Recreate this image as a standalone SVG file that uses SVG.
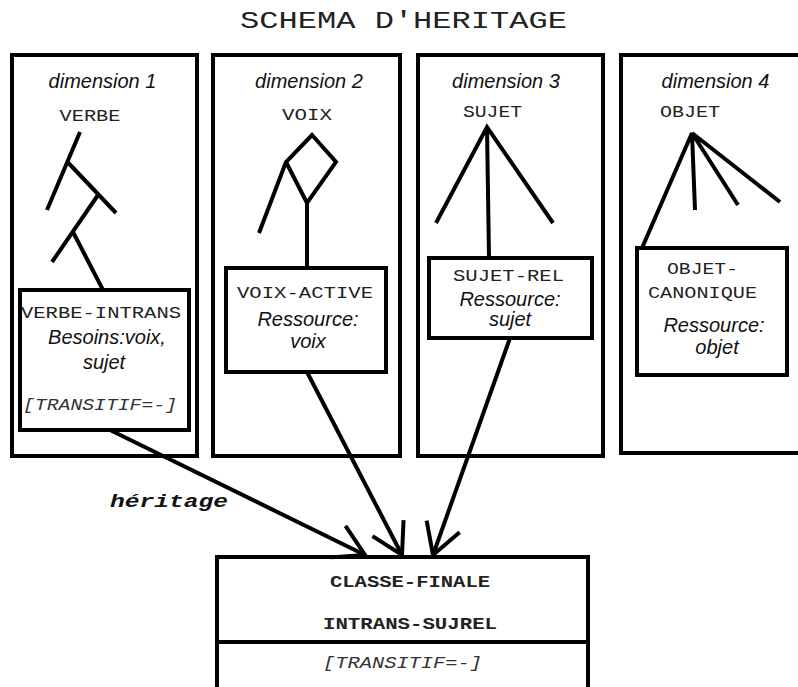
<svg xmlns="http://www.w3.org/2000/svg" width="798" height="687" viewBox="0 0 798 687">
  <style>
    .frame { fill: none; stroke: #000; stroke-width: 4; }
    .box { fill: #fff; stroke: #000; stroke-width: 4; }
    .edge { fill: none; stroke: #000; stroke-width: 4; stroke-linecap: butt; stroke-linejoin: miter; }
    .mono { font-family: "Liberation Mono", "Courier New", monospace; font-size: 16px; fill: #222; }
    .monoi { font-family: "Liberation Mono", "Courier New", monospace; font-size: 16px; font-style: italic; fill: #333; }
    .monob { font-family: "Liberation Mono", "Courier New", monospace; font-size: 16px; font-weight: bold; fill: #222; }
    .sans { font-family: "Liberation Sans", Arial, sans-serif; font-size: 20px; font-style: italic; fill: #111; }
    .title { font-family: "Liberation Mono", "Courier New", monospace; font-size: 23px; fill: #222; }
    .lbl { font-family: "Liberation Mono", "Courier New", monospace; font-size: 19px; font-weight: bold; font-style: italic; fill: #111; }
  </style>
  <defs>
    <marker id="open-arrow" markerUnits="userSpaceOnUse" viewBox="-40 -22 44 44" markerWidth="44" markerHeight="44" refX="0" refY="0" orient="auto">
      <path d="M-30.3,-17.5 L0,0 L-30.3,17.5" fill="none" stroke="#000" stroke-width="4"/>
    </marker>
  </defs>
  <rect width="798" height="687" fill="#fff"/>

  <text class="title" x="403.5" y="28" text-anchor="middle" textLength="327" lengthAdjust="spacingAndGlyphs">SCHEMA D'HERITAGE</text>

  <!-- dimension 1 : VERBE hierarchy -->
  <g id="dimension1">
    <rect class="frame" x="12" y="55" width="185" height="401"/>
    <text class="sans" x="102.5" y="88" text-anchor="middle">dimension 1</text>
    <text class="mono" x="90" y="121" text-anchor="middle" textLength="61" lengthAdjust="spacingAndGlyphs">VERBE</text>
    <path class="edge" d="M80,132 L47,210 M67.5,162 L116,213 M98,195 L52,262 M73,232 L103,290"/>
  </g>
  <g id="verbe-intrans">
    <rect class="box" x="20" y="290" width="169" height="140"/>
    <text class="mono" x="101" y="318" text-anchor="middle" textLength="160" lengthAdjust="spacingAndGlyphs">VERBE-INTRANS</text>
    <text class="sans" x="107" y="344" text-anchor="middle">Besoins:voix,</text>
    <text class="sans" x="104" y="369" text-anchor="middle">sujet</text>
    <text class="monoi" x="100" y="410" text-anchor="middle" textLength="154" lengthAdjust="spacingAndGlyphs">[TRANSITIF=-]</text>
  </g>

  <!-- dimension 2 : VOIX hierarchy -->
  <g id="dimension2">
    <rect class="frame" x="213" y="55" width="187" height="401"/>
    <text class="sans" x="309" y="88" text-anchor="middle">dimension 2</text>
    <text class="mono" x="307" y="120" text-anchor="middle" textLength="50" lengthAdjust="spacingAndGlyphs">VOIX</text>
    <path class="edge" d="M312,135 L336,162 L307,203 L286,162 Z M286,162 L259,233 M307,203 L307,268"/>
  </g>
  <g id="voix-active">
    <rect class="box" x="226" y="268" width="160" height="104"/>
    <text class="mono" x="305" y="298" text-anchor="middle" textLength="136" lengthAdjust="spacingAndGlyphs">VOIX-ACTIVE</text>
    <text class="sans" x="308" y="326" text-anchor="middle">Ressource:</text>
    <text class="sans" x="308" y="348" text-anchor="middle">voix</text>
  </g>

  <!-- dimension 3 : SUJET hierarchy -->
  <g id="dimension3">
    <rect class="frame" x="418" y="55" width="185" height="401"/>
    <text class="sans" x="506" y="88" text-anchor="middle">dimension 3</text>
    <text class="mono" x="492.5" y="117" text-anchor="middle" textLength="59" lengthAdjust="spacingAndGlyphs">SUJET</text>
    <path class="edge" d="M436,223 L487,127 L553,223 M487,127 L489,258"/>
  </g>
  <g id="sujet-rel">
    <rect class="box" x="429" y="258" width="163" height="80"/>
    <text class="mono" x="508.5" y="281" text-anchor="middle" textLength="111" lengthAdjust="spacingAndGlyphs">SUJET-REL</text>
    <text class="sans" x="510" y="306" text-anchor="middle">Ressource:</text>
    <text class="sans" x="510" y="326" text-anchor="middle">sujet</text>
  </g>

  <!-- dimension 4 : OBJET hierarchy -->
  <g id="dimension4">
    <rect class="frame" x="621" y="55" width="200" height="398"/>
    <text class="sans" x="715.5" y="88" text-anchor="middle">dimension 4</text>
    <text class="mono" x="690" y="117" text-anchor="middle" textLength="60" lengthAdjust="spacingAndGlyphs">OBJET</text>
    <path class="edge" d="M642,248 L692,133 L695,210 M692,133 L738,205 M692,133 L780,202"/>
  </g>
  <g id="objet-canonique">
    <rect class="box" x="637" y="248" width="150" height="127"/>
    <text class="mono" x="702.5" y="274" text-anchor="middle" textLength="71" lengthAdjust="spacingAndGlyphs">OBJET-</text>
    <text class="mono" x="702.5" y="298" text-anchor="middle" textLength="109" lengthAdjust="spacingAndGlyphs">CANONIQUE</text>
    <text class="sans" x="714" y="332" text-anchor="middle">Ressource:</text>
    <text class="sans" x="717" y="354" text-anchor="middle">objet</text>
  </g>

  <!-- resulting class -->
  <g id="classe-finale">
    <rect class="box" x="217" y="557" width="371" height="140"/>
    <line class="edge" x1="217" y1="642" x2="588" y2="642"/>
    <text class="monob" x="410" y="587" text-anchor="middle" textLength="160" lengthAdjust="spacingAndGlyphs">CLASSE-FINALE</text>
    <text class="monob" x="410" y="629" text-anchor="middle" textLength="174" lengthAdjust="spacingAndGlyphs">INTRANS-SUJREL</text>
    <text class="monoi" x="402.5" y="668" text-anchor="middle" textLength="159" lengthAdjust="spacingAndGlyphs">[TRANSITIF=-]</text>
  </g>

  <!-- inheritance links -->
  <g id="connectors">
    <line class="edge" x1="110" y1="430" x2="365" y2="555" marker-end="url(#open-arrow)"/>
    <line class="edge" x1="307" y1="372" x2="402" y2="555" marker-end="url(#open-arrow)"/>
    <line class="edge" x1="510" y1="338" x2="433" y2="555" marker-end="url(#open-arrow)"/>
    <text class="lbl" x="169" y="507" text-anchor="middle" textLength="118" lengthAdjust="spacingAndGlyphs">héritage</text>
  </g>
</svg>
